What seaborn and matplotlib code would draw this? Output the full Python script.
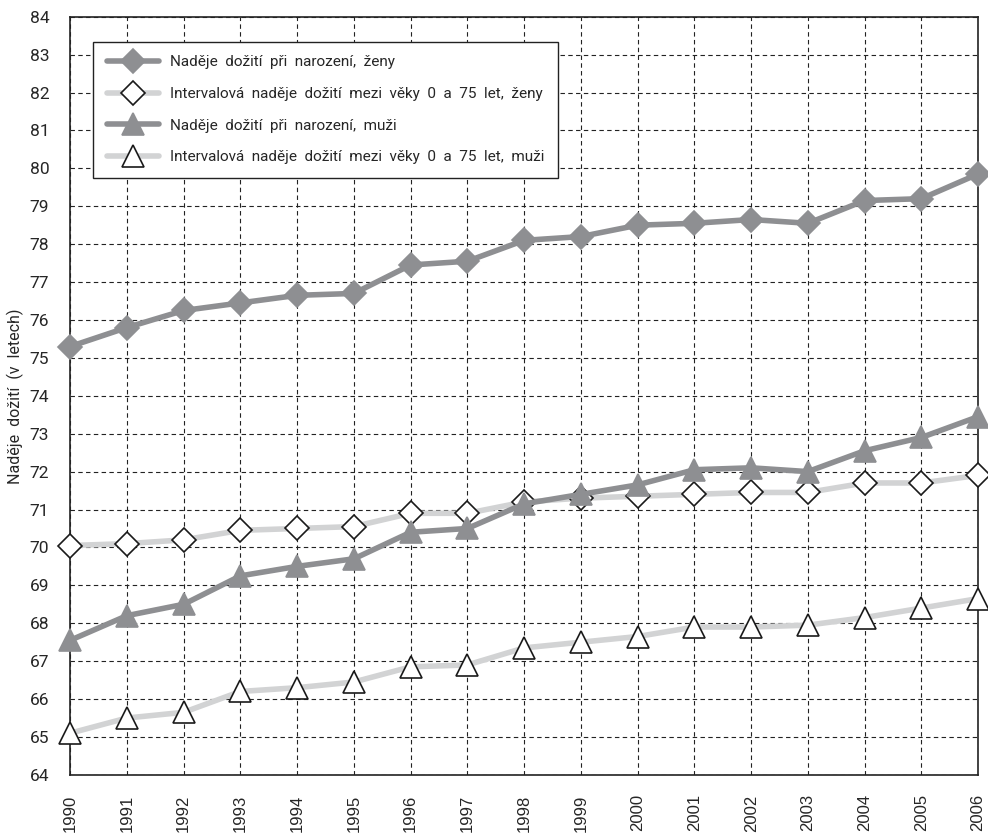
import numpy as np
import pandas as pd
import matplotlib
matplotlib.use('Agg')
import matplotlib.pyplot as plt
import seaborn as sns

years = list(range(1990, 2007))
zeny_narozeni = [75.3, 75.8, 76.25, 76.45, 76.65, 76.7, 77.45, 77.55, 78.1, 78.2, 78.5, 78.55, 78.65, 78.55, 79.15, 79.2, 79.85]
zeny_interval = [70.05, 70.1, 70.2, 70.45, 70.5, 70.55, 70.9, 70.9, 71.2, 71.3, 71.35, 71.4, 71.45, 71.45, 71.7, 71.7, 71.9]
muzi_narozeni = [67.55, 68.2, 68.5, 69.25, 69.5, 69.7, 70.4, 70.5, 71.15, 71.4, 71.65, 72.05, 72.1, 72.0, 72.55, 72.9, 73.45]
muzi_interval = [65.1, 65.5, 65.65, 66.2, 66.3, 66.45, 66.85, 66.9, 67.35, 67.5, 67.65, 67.9, 67.9, 67.95, 68.15, 68.4, 68.65]

labels = [
    "Naděje  dožití  při  narození,  ženy",
    "Intervalová  naděje  dožití  mezi  věky  0  a  75  let,  ženy",
    "Naděje  dožití  při  narození,  muži",
    "Intervalová  naděje  dožití  mezi  věky  0  a  75  let,  muži",
]

sns.set_style('white')
plt.rcParams['font.family'] = ['Liberation Sans Narrow', 'Roboto', 'DejaVu Sans']

fig = plt.figure(figsize=(9.88, 8.35), dpi=100)
ax = fig.add_axes([0.071, 0.072, 0.919, 0.908])

dark = '#8e8f92'
light = '#d2d3d4'

series = [
    (zeny_narozeni, dark, 'D', dark, dark, 12),
    (zeny_interval, light, 'D', 'white', '#1a1a1a', 12),
    (muzi_narozeni, dark, '^', dark, dark, 16),
    (muzi_interval, light, '^', 'white', '#1a1a1a', 16),
]
for (vals, col, mk, fc, ec, ms), lab in zip(series, labels):
    sns.lineplot(x=years, y=vals, ax=ax, color=col, lw=4, marker=mk,
                 markersize=ms, markerfacecolor=fc, markeredgecolor=ec,
                 markeredgewidth=1.2, label=lab, clip_on=False, zorder=3)

ax.set_xlim(1990, 2006)
ax.set_ylim(64, 84)
ax.set_xticks(years)
ax.set_xticklabels([str(y) for y in years], rotation=90, family=['Liberation Sans', 'DejaVu Sans'],
                   fontsize=12)
ax.set_yticks(range(64, 85))
ax.tick_params(axis='y', labelsize=12.5, length=12, width=0.8, direction='out', pad=3)
ax.tick_params(axis='x', length=5, width=0.8, direction='out', pad=9)
ax.grid(True, color='#222222', lw=0.8, ls=(0, (4, 3)))
for s in ax.spines.values():
    s.set_color('#222222')
    s.set_linewidth(1.2)
ax.set_ylabel("Naděje  dožití  (v  letech)", fontsize=11.5, labelpad=4)

leg = ax.legend(loc='upper left', bbox_to_anchor=(0.0253, 0.967), fontsize=11,
                frameon=True, fancybox=False, handlelength=3.4, labelspacing=1.15,
                borderpad=0.9, handletextpad=0.7, borderaxespad=0)
leg.get_frame().set_edgecolor('#222222')
leg.get_frame().set_linewidth(1.0)
leg.get_frame().set_alpha(1)

fig.savefig('out.png', dpi=100)
